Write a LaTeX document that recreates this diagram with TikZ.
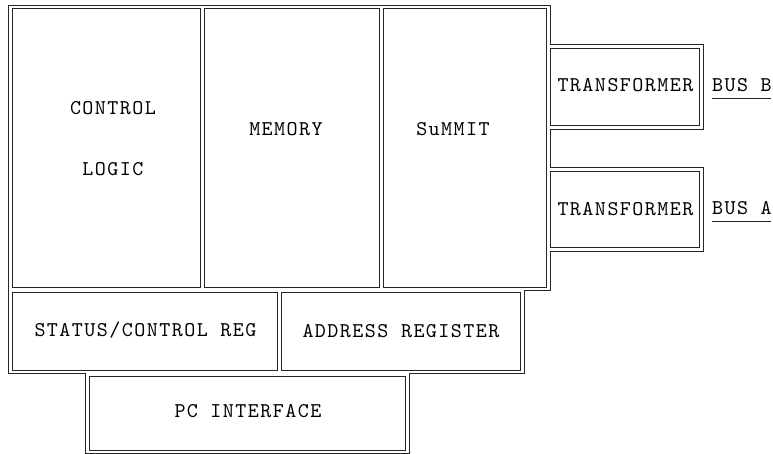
\documentclass[tikz,border=0pt]{standalone}
\usepackage{fontspec}
\newfontfamily\boxmono{lmmono10-regular.otf}[LetterSpace=7]
\newcommand\boxfont{\boxmono\fontsize{21}{24}\selectfont}
\usetikzlibrary{positioning}

\begin{document}
\begin{tikzpicture}[
    x=1pt, y=-1pt,
    wall/.style={draw=black!85, line width=0.7pt},
    cell/.style={rectangle, draw=black!85, line width=0.7pt, inner sep=0pt, outer sep=0pt},
    txt/.style={font=\boxfont, inner sep=0pt, outer sep=0pt, align=center}
]
\useasboundingbox (0,0) rectangle (773,454);

% Outer wall
\draw[wall] (8,5) -- (550,5) -- (550,44) -- (703,44) -- (703,129) -- (550,129)
    -- (550,167) -- (703,167) -- (703,251) -- (550,251) -- (550,290) -- (524,290)
    -- (524,373) -- (409,373) -- (409,453) -- (85,453) -- (85,373) -- (8,373) -- cycle;

% Top row
\node[cell, minimum width=188, minimum height=279] (ctl) at (106,147.5) {};
\node[cell, minimum width=175, minimum height=279] (mem) at (291.5,147.5) {};
\node[cell, minimum width=163, minimum height=279] (sum) at (464.5,147.5) {};

% Transformers
\node[cell, minimum width=149, minimum height=77] (trb) at (624.5,86.5) {};
\node[cell, minimum width=149, minimum height=76] (tra) at (624.5,209) {};

% Registers
\node[cell, minimum width=265, minimum height=78] (str) at (144.5,331) {};
\node[cell, minimum width=239, minimum height=78] (adr) at (400.5,331) {};

% PC interface
\node[cell, minimum width=316, minimum height=74] (pci) at (247,413) {};

% Labels
\node[txt] (ctl_t) at (113,139) {CONTROL\\[37pt]LOGIC};
\node[txt] (mem_t) at (286,129) {MEMORY};
\node[txt] (sum_t) at (453,129) {SuMMIT};
\node[txt] (trb_t) at (625.5,85) {TRANSFORMER};
\node[txt] (tra_t) at (625.5,209) {TRANSFORMER};
\node[txt, anchor=base] (busb) at (742,92) {BUS B};
\node[txt, anchor=base] (busa) at (742,215) {BUS A};
\node[txt] (str_t) at (145.5,330) {STATUS/CONTROL REG};
\node[txt] (adr_t) at (401,331) {ADDRESS REGISTER};
\node[txt] (pci_t) at (248,411) {PC INTERFACE};

% Bus lines
\draw[wall] ([yshift=-6pt]busb.base west) -- ([yshift=-6pt,xshift=-1pt]busb.base east);
\draw[wall] ([yshift=-6pt]busa.base west) -- ([yshift=-6pt,xshift=-1pt]busa.base east);

\end{tikzpicture}
\end{document}
